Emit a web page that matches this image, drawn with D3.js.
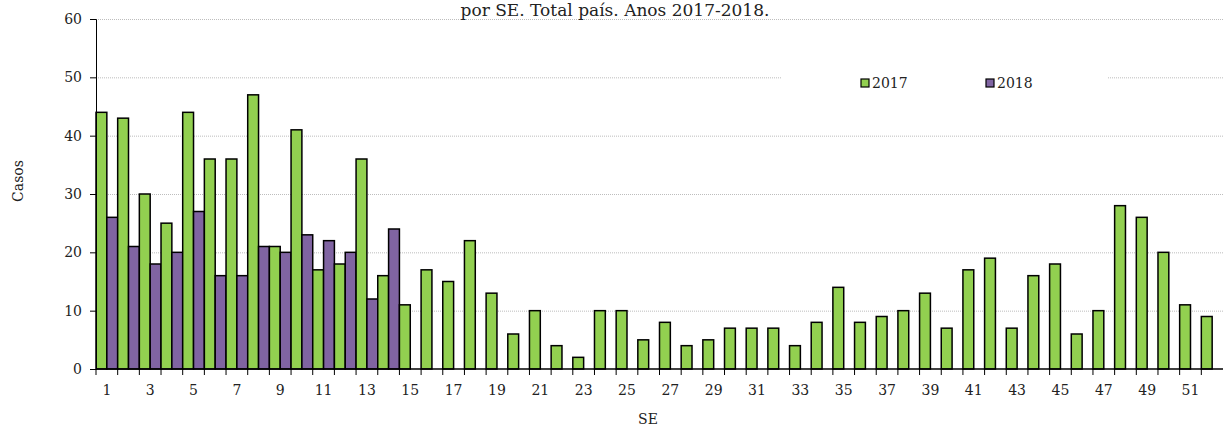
<!DOCTYPE html>
<html>
<head>
<meta charset="utf-8">
<script src="https://cdn.jsdelivr.net/npm/d3@7"></script>
<style>
  html, body { margin: 0; padding: 0; background: #fff; }
  svg { display: block; }
  text { font-family: "DejaVu Serif", "Liberation Serif", serif; fill: #222; }
</style>
</head>
<body>
<svg id="chart" width="1225" height="426"></svg>
<script>
// Epidemiological weeks (SE) 1..52
const weeks = d3.range(1, 53);
// Cases per week
const cases2017 = [44, 43, 30, 25, 44, 36, 36, 47, 21, 41, 17, 18, 36, 16, 11, 17, 15, 22, 13, 6,
  10, 4, 2, 10, 10, 5, 8, 4, 5, 7, 7, 7, 4, 8, 14, 8, 9, 10, 13, 7,
  17, 19, 7, 16, 18, 6, 10, 28, 26, 20, 11, 9];
const cases2018 = [26, 21, 18, 20, 27, 16, 16, 21, 20, 23, 22, 20, 12, 24];
const yTicks = [0, 10, 20, 30, 40, 50, 60];
const seriesNames = ["2017", "2018"];
const colors = ["#92D050", "#8064A2"];
const titleText = "por SE. Total país. Anos 2017-2018.";

const svg = d3.select("#chart");
const margin = { left: 96, right: 2, top: 19, bottom: 57 };
const W = 1225, H = 426;
const innerW = W - margin.left - margin.right;
const innerH = H - margin.top - margin.bottom;

const x = d3.scaleBand().domain(weeks).range([margin.left, margin.left + innerW]).padding(0);
const xs = d3.scaleBand().domain(seriesNames).range([0, x.bandwidth()]).padding(0);
const y = d3.scaleLinear().domain([0, 60]).range([margin.top + innerH, margin.top]);

// Horizontal gridlines
svg.append("g").selectAll("line").data(yTicks.filter(d => d > 0)).join("line")
  .attr("x1", margin.left).attr("x2", margin.left + innerW)
  .attr("y1", d => y(d) + 0.5).attr("y2", d => y(d) + 0.5)
  .attr("stroke", "#bdbdbd").attr("stroke-width", 1).attr("stroke-dasharray", "1,1");

// Title (second line)
svg.append("text").attr("x", 615).attr("y", 16).attr("text-anchor", "middle")
  .attr("font-size", 17).text(titleText);

// Bars
const data = [];
weeks.forEach((w, i) => {
  data.push({ week: w, s: "2017", v: cases2017[i] });
  if (i < cases2018.length) data.push({ week: w, s: "2018", v: cases2018[i] });
});
svg.append("g").selectAll("rect").data(data).join("rect")
  .attr("x", d => x(d.week) + xs(d.s))
  .attr("y", d => y(d.v))
  .attr("width", xs.bandwidth())
  .attr("height", d => y(0) - y(d.v))
  .attr("fill", d => colors[seriesNames.indexOf(d.s)])
  .attr("stroke", "#000").attr("stroke-width", 1.5);

// Y axis
const yAxis = svg.append("g").attr("transform", `translate(${margin.left},0)`)
  .call(d3.axisLeft(y).tickValues(yTicks).tickSize(6).tickPadding(8));
yAxis.select(".domain").attr("stroke", "#000");
yAxis.selectAll(".tick text").attr("font-size", 14).attr("font-family", "DejaVu Serif, serif");

// X axis: ticks at week boundaries, labels on odd weeks
const xAxisG = svg.append("g").attr("transform", `translate(0,${y(0)})`);
xAxisG.append("line").attr("x1", margin.left).attr("x2", margin.left + innerW)
  .attr("y1", 0).attr("y2", 0).attr("stroke", "#000").attr("stroke-width", 1.5);
xAxisG.selectAll("line.tk").data(weeks).join("line").attr("class", "tk")
  .attr("x1", d => x(d)).attr("x2", d => x(d)).attr("y1", 0).attr("y2", 6)
  .attr("stroke", "#000");
xAxisG.selectAll("text").data(weeks.filter(w => w % 2 === 1)).join("text")
  .attr("x", d => x(d) + x.bandwidth() / 2).attr("y", 26)
  .attr("text-anchor", "middle").attr("font-size", 14).text(d => d);

// Axis titles
svg.append("text").attr("x", 648).attr("y", 424).attr("text-anchor", "middle")
  .attr("font-size", 14).text("SE");
svg.append("text").attr("transform", "translate(23,181) rotate(-90)")
  .attr("text-anchor", "middle").attr("font-size", 14).text("Casos");

// Legend
const lg = svg.append("g");
lg.append("rect").attr("x", 782).attr("y", 66).attr("width", 325).attr("height", 34).attr("fill", "#fff");
const legendX = [861, 986];
seriesNames.forEach((s, i) => {
  lg.append("rect").attr("x", legendX[i]).attr("y", 79).attr("width", 8).attr("height", 8)
    .attr("fill", colors[i]).attr("stroke", "#000").attr("stroke-width", 1.2);
  lg.append("text").attr("x", legendX[i] + 11).attr("y", 88).attr("font-size", 14).text(s);
});
</script>
</body>
</html>
